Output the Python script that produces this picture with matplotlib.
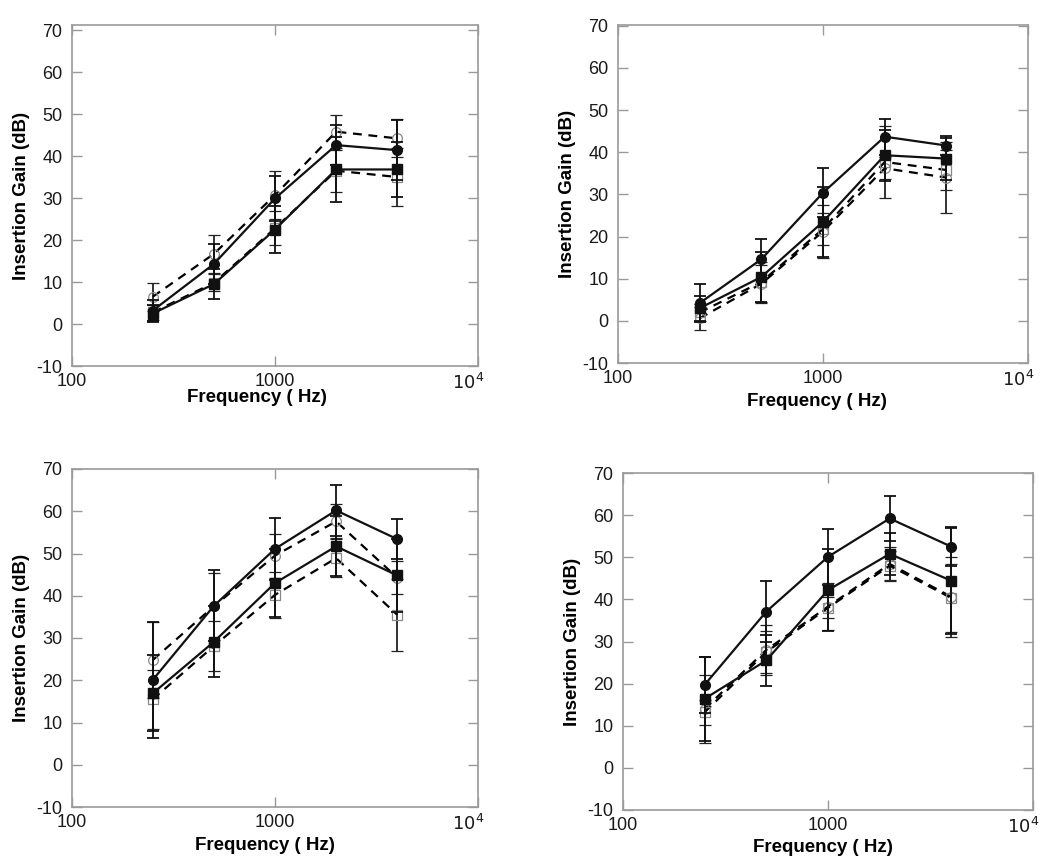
import numpy as np
import matplotlib
matplotlib.use("Agg")
import matplotlib.pyplot as plt
from matplotlib.transforms import ScaledTranslation

plt.rcParams['font.family'] = ['Liberation Sans', 'DejaVu Sans']

# test frequencies (Hz)
freq = [250, 500, 1000, 2000, 4000]

# insertion gain (dB) and error bar half-widths
# top left
tl_fill_circ = [3.2, 14.3, 29.9, 42.6, 41.4]
tl_fill_circ_err = [2.5, 4.7, 5.3, 4.8, 7.2]
tl_fill_sq = [2.5, 9.5, 22.5, 36.8, 36.8]
tl_fill_sq_err = [2.0, 3.5, 5.5, 7.7, 6.5]
tl_open_circ = [6.5, 16.7, 30.7, 45.8, 44.2]
tl_open_circ_err = [3.3, 4.5, 5.8, 4.0, 4.5]
tl_open_sq = [2.8, 9.8, 22.8, 36.5, 35.0]
tl_open_sq_err = [1.8, 2.0, 4.0, 5.0, 7.0]

# top right
tr_fill_circ = [4.2, 14.6, 30.4, 43.7, 41.6]
tr_fill_circ_err = [4.5, 4.8, 5.8, 4.3, 2.3]
tr_fill_sq = [3.0, 10.4, 23.5, 39.3, 38.5]
tr_fill_sq_err = [3.0, 6.0, 8.3, 6.0, 5.0]
tr_open_circ = [0.6, 8.8, 21.2, 36.2, 34.0]
tr_open_circ_err = [2.7, 4.5, 6.4, 2.6, 8.5]
tr_open_sq = [2.0, 9.2, 21.8, 37.7, 35.8]
tr_open_sq_err = [2.0, 4.8, 3.8, 8.5, 4.8]

# bottom left
bl_fill_circ = [20.1, 37.6, 51.1, 60.2, 53.4]
bl_fill_circ_err = [13.8, 8.4, 7.4, 6.1, 4.8]
bl_fill_sq = [16.9, 29.1, 43.0, 51.7, 44.8]
bl_fill_sq_err = [9.0, 8.4, 8.0, 7.1, 8.7]
bl_open_circ = [24.8, 37.5, 49.5, 57.6, 44.3]
bl_open_circ_err = [9.0, 8.0, 5.2, 4.0, 4.0]
bl_open_sq = [15.5, 28.1, 40.2, 48.9, 35.5]
bl_open_sq_err = [7.0, 6.0, 5.4, 4.5, 8.5]

# bottom right
br_fill_circ = [19.7, 37.1, 50.1, 59.2, 52.5]
br_fill_circ_err = [6.7, 7.3, 6.7, 5.3, 4.6]
br_fill_sq = [16.4, 25.5, 42.2, 50.8, 44.4]
br_fill_sq_err = [10.0, 6.0, 9.7, 5.0, 12.6]
br_open_circ = [14.0, 28.0, 38.3, 48.4, 40.6]
br_open_circ_err = [8.0, 6.0, 5.6, 4.0, 9.5]
br_open_sq = [13.2, 27.5, 38.0, 48.0, 40.3]
br_open_sq_err = [3.0, 5.0, 2.5, 3.5, 8.0]

xtick_vals = [100, 1000, 10000]
xtick_labels = ['100', '1000', r'$10^4$']
ytick_vals = [-10, 0, 10, 20, 30, 40, 50, 60, 70]

panels = [
    (tl_fill_circ, tl_fill_circ_err, tl_fill_sq, tl_fill_sq_err,
     tl_open_circ, tl_open_circ_err, tl_open_sq, tl_open_sq_err),
    (tr_fill_circ, tr_fill_circ_err, tr_fill_sq, tr_fill_sq_err,
     tr_open_circ, tr_open_circ_err, tr_open_sq, tr_open_sq_err),
    (bl_fill_circ, bl_fill_circ_err, bl_fill_sq, bl_fill_sq_err,
     bl_open_circ, bl_open_circ_err, bl_open_sq, bl_open_sq_err),
    (br_fill_circ, br_fill_circ_err, br_fill_sq, br_fill_sq_err,
     br_open_circ, br_open_circ_err, br_open_sq, br_open_sq_err),
]

# axes rectangles in pixels (left, right, top, bottom) and label spots (axes coords)
W, H = 1050.0, 865.0
boxes = [(72, 478, 25, 366), (618, 1028, 25, 363),
         (72, 478, 469, 807), (623, 1033, 473, 810)]
ytops = [71.2, 70.2, 70, 70]
xlab_pos = [(0.456, -0.066), (0.485, -0.09), (0.475, -0.09), (0.488, -0.085)]
ylab_x = [-0.103, -0.102, -0.103, -0.102]

fig = plt.figure(figsize=(10.5, 8.65), dpi=100)
gray = '#9a9a9a'

for i, p in enumerate(panels):
    l, r, t, b = boxes[i]
    ax = fig.add_axes([l / W, (H - b) / H, (r - l) / W, (b - t) / H])
    fc, fce, fs, fse, oc, oce, osq, osqe = p

    # open symbols, dashed
    ax.errorbar(freq, oc, yerr=oce, color='black', ls=(0, (4, 3)), lw=1.6,
                marker='o', ms=7, mfc='none', mec='#888888', mew=0.9,
                ecolor='#222222', elinewidth=1.3, capsize=4.5, capthick=1.3, zorder=2)
    ax.errorbar(freq, osq, yerr=osqe, color='black', ls=(0, (4, 3)), lw=1.6,
                marker='s', ms=7, mfc='none', mec='#888888', mew=0.9,
                ecolor='#222222', elinewidth=1.3, capsize=4.5, capthick=1.3, zorder=2)
    # filled symbols, solid
    ax.errorbar(freq, fc, yerr=fce, color='#111111', ls='-', lw=1.6,
                marker='o', ms=7, mfc='#111111', mec='#111111',
                ecolor='#111111', elinewidth=1.3, capsize=4.5, capthick=1.3, zorder=3)
    ax.errorbar(freq, fs, yerr=fse, color='#111111', ls='-', lw=1.6,
                marker='s', ms=7.5, mfc='#111111', mec='#111111',
                ecolor='#111111', elinewidth=1.3, capsize=4.5, capthick=1.3, zorder=3)

    ax.set_xscale('log')
    ax.set_xlim(100, 10000)
    ax.set_ylim(-10, ytops[i])
    ax.set_xticks(xtick_vals)
    ax.set_xticklabels(xtick_labels)
    ax.minorticks_off()
    ax.set_yticks(ytick_vals)
    ax.set_yticklabels([str(v) for v in ytick_vals])
    ax.tick_params(direction='in', length=7, width=1, color=gray,
                   top=True, right=True, labelsize=13, labelcolor='#1a1a1a')
    ax.tick_params(axis='x', pad=5)
    ax.tick_params(axis='y', pad=7)
    for s in ax.spines.values():
        s.set_color(gray)
        s.set_linewidth(1.2)

    # the 10^4 label sits a bit left of the axis end in the original
    last = ax.get_xticklabels()[-1]
    last.set_transform(last.get_transform() + ScaledTranslation(-0.1, 0, fig.dpi_scale_trans))

    ax.set_xlabel('Frequency ( Hz)', fontsize=13.5, fontweight='bold')
    ax.set_ylabel('Insertion Gain (dB)', fontsize=13.5, fontweight='bold')
    ax.xaxis.set_label_coords(*xlab_pos[i])
    ax.yaxis.set_label_coords(ylab_x[i], 0.5)

fig.savefig('out.png', dpi=100)
